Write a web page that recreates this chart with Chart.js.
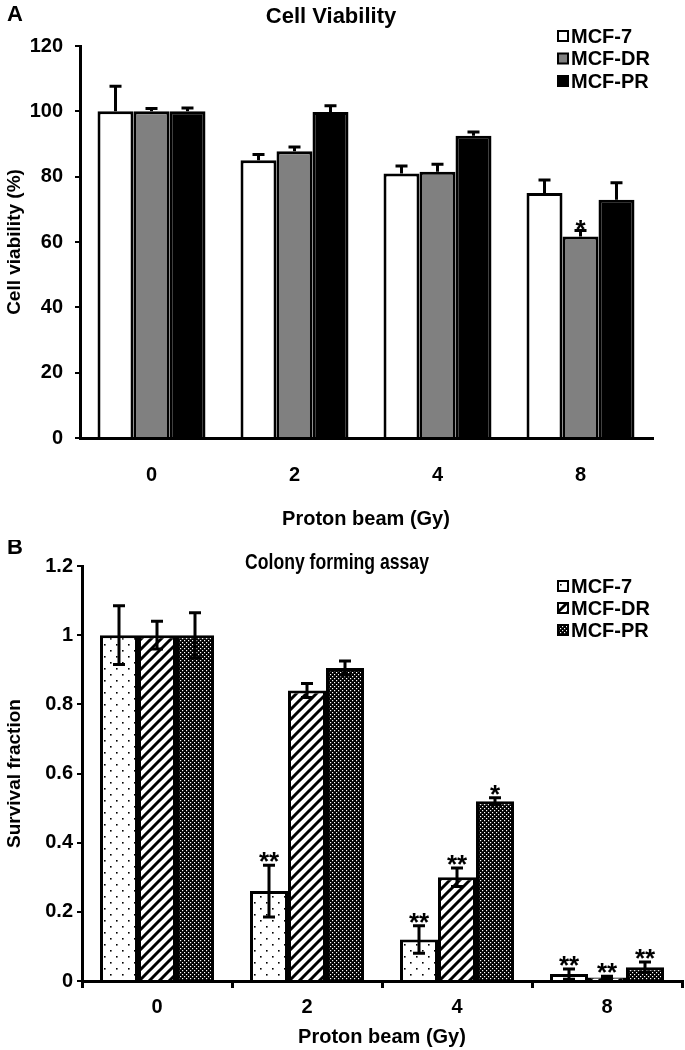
<!DOCTYPE html>
<html>
<head>
<meta charset="utf-8">
<script src="https://cdn.jsdelivr.net/npm/chart.js@4.4.0/dist/chart.umd.min.js"></script>
<style>
    body { margin: 0; background: #fff; }
    .panel { position: absolute; left: 0; width: 685px; }
    #panelA { top: 0; height: 540px; }
    #panelB { top: 540px; height: 510px; }
</style>
</head>
<body>
<div class="panel" id="panelA"><canvas id="graficoA" width="685" height="540"></canvas></div>
<div class="panel" id="panelB"><canvas id="graficoB" width="685" height="510"></canvas></div>
<script>
// Datos
const dosis = ['0', '2', '4', '8'];
const lineas = ['MCF-7', 'MCF-DR', 'MCF-PR'];

// A: viabilidad celular (%), barras de error sólo hacia arriba
const viabMCF7 = [100, 85.0, 81.0, 75.0];
const viabDR = [100, 87.8, 81.5, 61.7];
const viabPR = [100, 99.8, 92.5, 72.9];
const errViabMCF7 = [7.7, 1.8, 2.3, 4.0];
const errViabDR = [0.9, 1.3, 2.3, 1.8];
const errViabPR = [1.0, 1.9, 1.2, 5.2];
const marcasViabMCF7 = ['', '', '', ''];
const marcasViabDR = ['', '', '', '*'];
const marcasViabPR = ['', '', '', ''];
const ticksViab = ['0', '20', '40', '60', '80', '100', '120'];

// B: fracción de supervivencia, barras de error en ambos sentidos
const supMCF7 = [1, 0.26, 0.12, 0.02];
const supDR = [1, 0.84, 0.30, 0.01];
const supPR = [1, 0.905, 0.52, 0.04];
const errSupMCF7 = [0.085, 0.075, 0.04, 0.015];
const errSupDR = [0.04, 0.02, 0.027, 0.004];
const errSupPR = [0.065, 0.02, 0.01, 0.015];
const marcasSupMCF7 = ['', '**', '**', '**'];
const marcasSupDR = ['', '', '**', '**'];
const marcasSupPR = ['', '', '*', '**'];
const ticksSup = ['0', '0.2', '0.4', '0.6', '0.8', '1', '1.2'];

const FAMILIA = "'Liberation Sans', Arial, sans-serif";
const fuente = (size) => ({ family: FAMILIA, size: size, weight: 'bold', lineHeight: 1.2 });

function crearPatron(tipo) {
    const c = document.createElement('canvas');
    const g = c.getContext('2d');
    if (tipo === 'puntos') {
        c.width = 12; c.height = 12;
        g.fillStyle = '#fff'; g.fillRect(0, 0, 12, 12);
        g.fillStyle = '#000';
        g.fillRect(2, 2, 1.6, 1.6);
        g.fillRect(8, 8, 1.6, 1.6);
    } else if (tipo === 'rayas') {
        c.width = 10; c.height = 10;
        g.fillStyle = '#fff'; g.fillRect(0, 0, 10, 10);
        g.strokeStyle = '#000'; g.lineWidth = 3;
        g.beginPath();
        g.moveTo(-2, 12); g.lineTo(12, -2);
        g.moveTo(-3, 3); g.lineTo(3, -3);
        g.moveTo(7, 13); g.lineTo(13, 7);
        g.stroke();
    } else {
        c.width = 4; c.height = 4;
        g.fillStyle = '#000'; g.fillRect(0, 0, 4, 4);
        g.fillStyle = '#fff';
        g.fillRect(0, 0, 1.2, 1.2);
        g.fillRect(2, 2, 1.2, 1.2);
    }
    return g.createPattern(c, 'repeat');
}

// Barras de error, asteriscos, leyenda y títulos
const pluginAnotaciones = {
    id: 'anotaciones',
    afterDatasetsDraw(chart, args, opts) {
        const ctx = chart.ctx;
        const escalaY = chart.scales.y;
        ctx.save();
        ctx.strokeStyle = '#000';
        ctx.fillStyle = '#000';
        ctx.lineWidth = 3;
        chart.data.datasets.forEach((ds, i) => {
            chart.getDatasetMeta(i).data.forEach((barra, j) => {
                const v = ds.data[j];
                const e = ds.errores[j];
                const yArriba = escalaY.getPixelForValue(v + e);
                const yAbajo = opts.dobleCara ? escalaY.getPixelForValue(v - e) : barra.y;
                ctx.beginPath();
                ctx.moveTo(barra.x, yAbajo);
                ctx.lineTo(barra.x, yArriba);
                ctx.moveTo(barra.x - 6, yArriba);
                ctx.lineTo(barra.x + 6, yArriba);
                if (opts.dobleCara) {
                    ctx.moveTo(barra.x - 6, yAbajo);
                    ctx.lineTo(barra.x + 6, yAbajo);
                }
                ctx.stroke();
                const marca = ds.marcas[j];
                if (marca) {
                    ctx.font = `bold 26px ${FAMILIA}`;
                    ctx.textAlign = 'center';
                    ctx.textBaseline = 'alphabetic';
                    ctx.fillText(marca, barra.x, yArriba + opts.desfaseMarca);
                }
            });
        });
        ctx.restore();
    },
    afterDraw(chart, args, opts) {
        const ctx = chart.ctx;
        ctx.save();
        ctx.fillStyle = '#000';
        ctx.textBaseline = 'middle';
        // letra del panel
        ctx.font = `bold 22px ${FAMILIA}`;
        ctx.textAlign = 'left';
        ctx.fillText(opts.letra, 7, opts.letraY);
        // título (algo más estrecho en B)
        ctx.save();
        ctx.translate(opts.tituloX, opts.tituloY);
        ctx.scale(opts.tituloEscala, 1);
        ctx.font = `bold 22px ${FAMILIA}`;
        ctx.textAlign = 'center';
        ctx.fillText(opts.titulo, 0, 0);
        ctx.restore();
        // leyenda
        ctx.font = `bold 20px ${FAMILIA}`;
        ctx.textAlign = 'left';
        chart.data.datasets.forEach((ds, i) => {
            const y = opts.leyendaY + i * opts.leyendaPaso;
            ctx.fillStyle = '#000';
            ctx.fillRect(opts.leyendaX, y - 6, 12, 12);
            ctx.fillStyle = ds.backgroundColor;
            ctx.fillRect(opts.leyendaX + 2, y - 4, 8, 8);
            ctx.fillStyle = '#000';
            ctx.fillText(ds.label, opts.leyendaX + 14, y + 1);
        });
        ctx.restore();
    }
};

function crearGrafico(idCanvas, cfg) {
    const ctx = document.getElementById(idCanvas).getContext('2d');
    return new Chart(ctx, {
        type: 'bar',
        data: {
            labels: dosis,
            datasets: cfg.series.map((s, i) => ({
                label: lineas[i],
                data: s.datos,
                errores: s.errores,
                marcas: s.marcas,
                backgroundColor: s.relleno,
                borderColor: '#000',
                borderWidth: 3,
                categoryPercentage: cfg.categoria,
                barPercentage: 1,
            })),
        },
        options: {
            responsive: false,
            animation: false,
            layout: { padding: cfg.padding },
            plugins: {
                legend: { display: false },
                tooltip: { enabled: false },
                anotaciones: cfg.anotaciones,
            },
            scales: {
                x: {
                    grid: {
                        display: true,
                        drawOnChartArea: false,
                        drawTicks: cfg.ticksX,
                        tickLength: 7,
                        color: '#000',
                        lineWidth: 3,
                    },
                    border: { color: '#000', width: 3 },
                    ticks: { font: fuente(20), color: '#000', padding: cfg.padTickX },
                    title: {
                        display: true,
                        text: 'Proton beam (Gy)',
                        font: fuente(20),
                        color: '#000',
                        padding: 0,
                    },
                    afterFit: (s) => { s.height = cfg.altoX; },
                },
                y: {
                    min: 0,
                    max: cfg.maxY,
                    grid: {
                        drawOnChartArea: false,
                        drawTicks: true,
                        tickLength: 5,
                        color: '#000',
                        lineWidth: 2,
                    },
                    border: { color: '#000', width: 3 },
                    ticks: {
                        stepSize: cfg.maxY / 6,
                        font: fuente(20),
                        color: '#000',
                        padding: cfg.padTickY,
                        callback: (v, idx) => cfg.etiquetasY[idx],
                    },
                    title: {
                        display: true,
                        text: cfg.tituloY,
                        font: fuente(19),
                        color: '#000',
                        padding: { top: 3, bottom: 0 },
                    },
                    afterFit: (s) => { s.width = cfg.anchoY; },
                },
            },
        },
        plugins: [pluginAnotaciones],
    });
}

crearGrafico('graficoA', {
    series: [
        { datos: viabMCF7, errores: errViabMCF7, marcas: marcasViabMCF7, relleno: '#ffffff' },
        { datos: viabDR, errores: errViabDR, marcas: marcasViabDR, relleno: '#808080' },
        { datos: viabPR, errores: errViabPR, marcas: marcasViabPR, relleno: '#000000' },
    ],
    categoria: 0.755,
    padding: { top: 46, right: 33, bottom: 9, left: 0 },
    ticksX: false,
    padTickX: 25,
    altoX: 93,
    maxY: 120,
    etiquetasY: ticksViab,
    padTickY: 12,
    anchoY: 80,
    tituloY: 'Cell viability (%)',
    anotaciones: {
        dobleCara: false, desfaseMarca: 7,
        letra: 'A', letraY: 15,
        titulo: 'Cell Viability', tituloX: 331, tituloY: 17, tituloEscala: 1,
        leyendaX: 557, leyendaY: 36, leyendaPaso: 22.5,
    },
});

crearGrafico('graficoB', {
    series: [
        { datos: supMCF7, errores: errSupMCF7, marcas: marcasSupMCF7, relleno: crearPatron('puntos') },
        { datos: supDR, errores: errSupDR, marcas: marcasSupDR, relleno: crearPatron('rayas') },
        { datos: supPR, errores: errSupPR, marcas: marcasSupPR, relleno: crearPatron('denso') },
    ],
    categoria: 0.76,
    padding: { top: 26, right: 3, bottom: 1, left: 0 },
    ticksX: true,
    padTickX: 7,
    altoX: 68,
    maxY: 1.2,
    etiquetasY: ticksSup,
    padTickY: 4,
    anchoY: 82,
    tituloY: 'Survival fraction',
    anotaciones: {
        dobleCara: true, desfaseMarca: 5,
        letra: 'B', letraY: 8,
        titulo: 'Colony forming assay', tituloX: 337, tituloY: 23, tituloEscala: 0.8,
        leyendaX: 557, leyendaY: 46, leyendaPaso: 22,
    },
});
</script>
</body>
</html>
